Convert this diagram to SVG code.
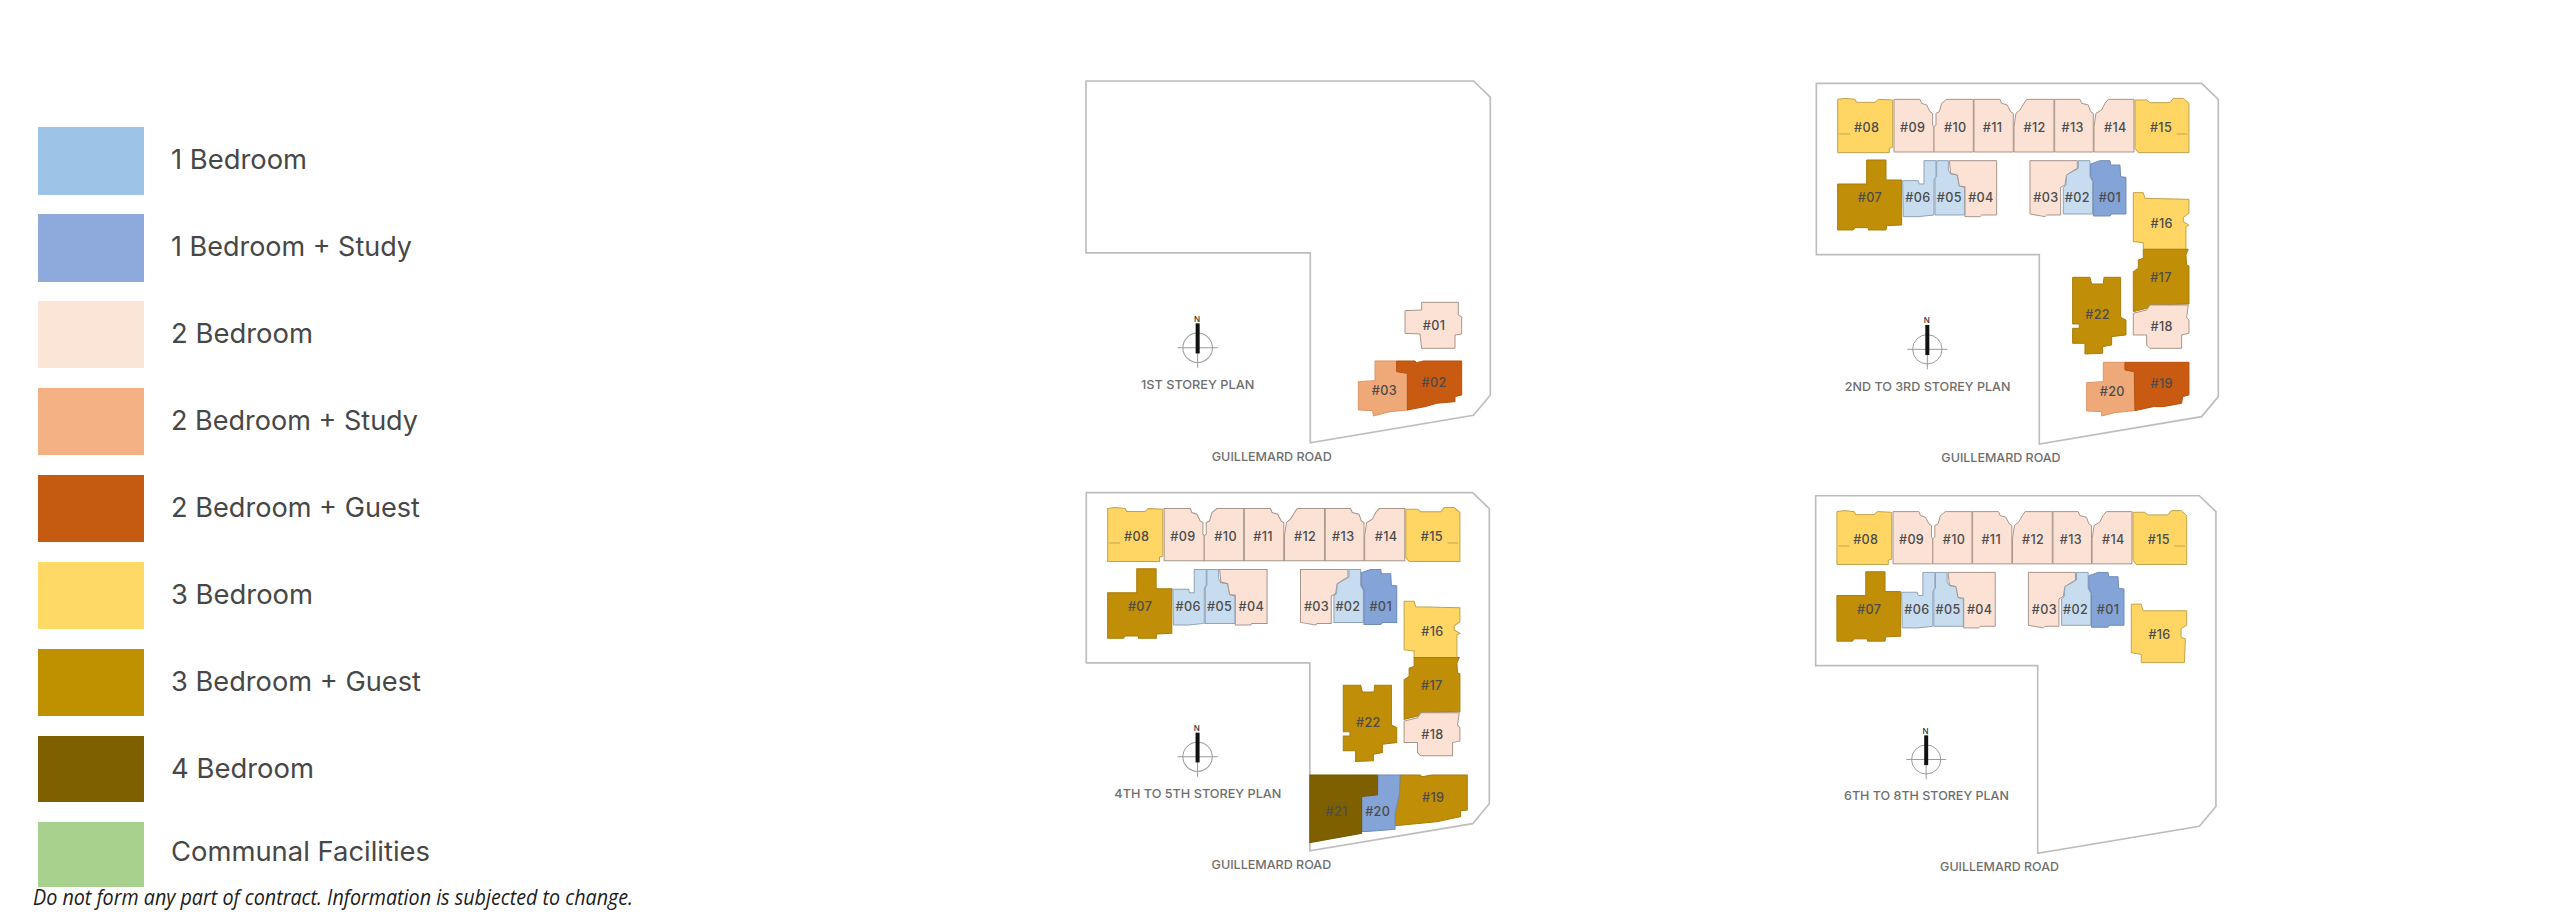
<svg xmlns="http://www.w3.org/2000/svg" xmlns:xlink="http://www.w3.org/1999/xlink" width="2560" height="923" viewBox="0 0 2560 923">
<style>
.lg{font-family:"Inter","Liberation Sans",sans-serif;font-size:27px;fill:#474747}
.note{font-family:"Open Sans","Liberation Sans",sans-serif;font-style:italic;font-size:21px;fill:#1c1c1c}
.frame{fill:#fff;stroke:#bdbdbd;stroke-width:5}
.t{font-family:"Inter","Liberation Sans",sans-serif;font-size:38px;font-weight:500;letter-spacing:1px;fill:#4c4c4c;text-anchor:middle}
.n{font-family:"Inter","Liberation Sans",sans-serif;font-size:24px;font-weight:500;fill:#333;text-anchor:middle}
.cap{font-family:"Inter","Liberation Sans",sans-serif;font-size:37px;font-weight:500;fill:#6e6e6e;text-anchor:middle}
.b1{fill:#C8DCF0;stroke:#8fa3b8;stroke-width:3}
.bs{fill:#84A3D6;stroke:#6f8cbc;stroke-width:3}
.b2{fill:#FBE2D5;stroke:#a8958a;stroke-width:3}
.ts{fill:#EFA878;stroke:#dc9667;stroke-width:3}
.tg{fill:#C85A12;stroke:#b75210;stroke-width:3}
.b3{fill:#FFD663;stroke:#bfa34f;stroke-width:3}
.bg{fill:#C18E08;stroke:#a97c08;stroke-width:3}
.b4{fill:#7F6000;stroke:#735700;stroke-width:3}
.cl{stroke:#9a9a9a;stroke-width:3;fill:none}
.mk{stroke:#bfa34f;stroke-width:3;fill:none}
</style>
<defs>
<polygon id="frame" points="49,70 1205,70 1255,118 1255,1010 1205,1070 718,1152 718,584 49,584"/>
<polygon id="p08" points="113,118 135,115 165,118 170,127 225,127 235,118 278,120 278,262 268,265 268,278 113,278"/>
<polygon id="p09" points="282,118 360,118 365,130 380,135 390,155 398,160 398,195 402,200 402,276 282,276"/>
<polygon id="p10" points="402,200 408,195 408,160 418,155 425,130 440,118 520,118 520,276 402,276"/>
<polygon id="p11" points="522,118 600,118 605,130 622,135 632,155 640,160 640,276 522,276"/>
<polygon id="p12" points="642,200 648,160 660,150 672,130 680,118 762,118 762,276 642,276"/>
<polygon id="p13" points="764,118 840,118 845,130 865,135 872,155 880,160 880,276 764,276"/>
<polygon id="p14" points="882,200 888,160 905,150 915,130 925,118 1002,118 1002,276 882,276"/>
<polygon id="p15" points="1005,120 1040,120 1050,128 1110,128 1120,115 1150,115 1167,130 1167,278 1015,278 1005,265"/>
<polygon id="p07" points="200,300 258,300 258,360 305,360 305,495 260,497 258,510 205,510 205,503 165,503 160,510 113,510 113,372 200,372"/>
<polygon id="p06" points="372,302 408,302 408,350 402,360 402,465 355,470 310,470 308,362 355,362 358,372 372,372"/>
<polygon id="p05" points="410,302 445,302 445,330 452,342 472,345 478,378 494,382 494,465 405,465 405,355 410,350"/>
<polygon id="p04" points="448,302 590,302 590,465 545,465 540,470 495,470 495,380 478,378 472,345 452,340"/>
<polygon id="p03" points="690,302 832,302 832,325 815,335 800,345 795,375 782,382 782,465 740,465 735,470 690,462"/>
<polygon id="p02" points="835,302 870,302 870,350 878,365 878,462 790,462 790,382 798,375 800,345 818,335 835,325"/>
<polygon id="p01" points="872,312 900,302 930,302 932,315 960,315 962,350 978,352 978,462 935,462 930,468 880,468 880,365 872,350"/>
<polygon id="p16" points="1000,398 1030,398 1035,415 1167,418 1167,460 1150,472 1150,485 1167,495 1158,500 1158,568 1030,568 1030,548 1000,545"/>
<polygon id="p17" points="1030,568 1165,568 1158,585 1160,615 1167,618 1167,732 1050,735 1040,745 1000,755 1000,635 1015,625 1015,600 1030,595"/>
<polygon id="p18" points="1050,735 1165,735 1160,772 1167,780 1167,820 1145,825 1145,865 1050,865 1040,855 1040,825 1000,825 1000,760 1040,750"/>
<polygon id="p22" points="818,652 870,652 875,672 910,672 912,652 962,652 962,772 978,780 978,825 935,830 935,855 908,860 908,880 855,882 855,850 818,850 818,805 838,805 838,792 818,792"/>
<polygon id="p20" points="910,907 975,907 975,930 1003,935 1003,1052 945,1058 905,1068 905,1055 860,1053 860,968 910,965"/>
<polygon id="p19" points="975,907 1167,907 1167,1005 1148,1010 1145,1030 1090,1040 1060,1040 1005,1052 1003,935 975,930"/>
<path id="m08" d="M118 222H150" class="mk"/>
<path id="m15" d="M1130 222H1162" class="mk"/>
<g id="north">
<circle cx="382" cy="868" r="44" class="cl"/>
<path d="M322 868H442M382 808V928" class="cl"/>
<rect x="376" y="795" width="12" height="90" fill="#111"/>
</g>
</defs>

<rect width="2560" height="923" fill="#fff"/>

<g id="legend">
<g id="legend-1b"><rect x="38" y="127" width="106" height="68" fill="#9DC3E6"/><text x="171" y="169" class="lg" textLength="136" lengthAdjust="spacingAndGlyphs">1 Bedroom</text></g>
<g id="legend-1bs"><rect x="38" y="214" width="106" height="68" fill="#8EA9DB"/><text x="171" y="256" class="lg" textLength="241" lengthAdjust="spacingAndGlyphs">1 Bedroom + Study</text></g>
<g id="legend-2b"><rect x="38" y="301" width="106" height="67" fill="#FBE5D6"/><text x="171" y="343" class="lg" textLength="142" lengthAdjust="spacingAndGlyphs">2 Bedroom</text></g>
<g id="legend-2bs"><rect x="38" y="388" width="106" height="67" fill="#F4B183"/><text x="171" y="430" class="lg" textLength="247" lengthAdjust="spacingAndGlyphs">2 Bedroom + Study</text></g>
<g id="legend-2bg"><rect x="38" y="475" width="106" height="67" fill="#C55A11"/><text x="171" y="517" class="lg" textLength="249" lengthAdjust="spacingAndGlyphs">2 Bedroom + Guest</text></g>
<g id="legend-3b"><rect x="38" y="562" width="106" height="67" fill="#FFD966"/><text x="171" y="604" class="lg" textLength="142" lengthAdjust="spacingAndGlyphs">3 Bedroom</text></g>
<g id="legend-3bg"><rect x="38" y="649" width="106" height="67" fill="#BF9000"/><text x="171" y="691" class="lg" textLength="250" lengthAdjust="spacingAndGlyphs">3 Bedroom + Guest</text></g>
<g id="legend-4b"><rect x="38" y="736" width="106" height="66" fill="#7F6000"/><text x="171" y="778" class="lg" textLength="143" lengthAdjust="spacingAndGlyphs">4 Bedroom</text></g>
<g id="legend-cf"><rect x="38" y="822" width="106" height="65" fill="#A9D18E"/><text x="171" y="861" class="lg" textLength="259" lengthAdjust="spacingAndGlyphs">Communal Facilities</text></g>
<text x="33" y="905" class="note" textLength="600" lengthAdjust="spacingAndGlyphs">Do not form any part of contract. Information is subjected to change.</text>
</g>

<g id="plan-1" transform="translate(1069.6,57.6) scale(.3352,.3343)">
<use xlink:href="#frame" href="#frame" class="frame"/>
<use xlink:href="#north" href="#north"/>
<text x="380" y="790" class="n">N</text>
<text x="382" y="992" class="cap" textLength="338" lengthAdjust="spacingAndGlyphs">1ST STOREY PLAN</text>
<text x="603" y="1206" class="cap" textLength="358" lengthAdjust="spacingAndGlyphs">GUILLEMARD ROAD</text>
<g transform="translate(-28.6,7.2) scale(.9944,.997)">
<g id="p1-u01"><polygon class="b2" points="1035,752 1085,750 1085,727 1195,727 1195,765 1205,770 1205,822 1185,825 1185,865 1085,865 1080,822 1035,820"/><text x="1122" y="810" class="t">#01</text></g>
<g id="p1-u03"><polygon class="ts" points="945,903 1010,903 1010,935 1042,940 1045,1050 990,1055 940,1068 938,1052 895,1050 895,965 945,962"/><text x="973" y="1005" class="t">#03</text></g>
<g id="p1-u02"><polygon class="tg" points="1010,903 1065,903 1070,908 1090,903 1205,903 1205,1005 1185,1010 1185,1025 1130,1030 1095,1040 1042,1050 1042,940 1010,935"/><text x="1122" y="981" class="t">#02</text></g>
</g>
</g>

<g id="plan-2" transform="translate(1800,60) scale(.3333)">
<use xlink:href="#frame" href="#frame" class="frame"/>
<use xlink:href="#north" href="#north"/>
<text x="380" y="790" class="n">N</text>
<text x="383" y="992" class="cap" textLength="497" lengthAdjust="spacingAndGlyphs">2ND TO 3RD STOREY PLAN</text>
<text x="603" y="1206" class="cap" textLength="358" lengthAdjust="spacingAndGlyphs">GUILLEMARD ROAD</text>
<g id="p2-u08"><use href="#p08" class="b3"/><use href="#m08"/><text x="200" y="215" class="t">#08</text></g>
<g id="p2-u09"><use href="#p09" class="b2"/><text x="338" y="217" class="t">#09</text></g>
<g id="p2-u10"><use href="#p10" class="b2"/><text x="466" y="217" class="t">#10</text></g>
<g id="p2-u11"><use href="#p11" class="b2"/><text x="578" y="217" class="t">#11</text></g>
<g id="p2-u12"><use href="#p12" class="b2"/><text x="704" y="217" class="t">#12</text></g>
<g id="p2-u13"><use href="#p13" class="b2"/><text x="818" y="217" class="t">#13</text></g>
<g id="p2-u14"><use href="#p14" class="b2"/><text x="946" y="217" class="t">#14</text></g>
<g id="p2-u15"><use href="#p15" class="b3"/><use href="#m15"/><text x="1083" y="217" class="t">#15</text></g>
<g id="p2-u07"><use href="#p07" class="bg"/><text x="210" y="427" class="t">#07</text></g>
<g id="p2-u06"><use href="#p06" class="b1"/><text x="354" y="427" class="t">#06</text></g>
<g id="p2-u05"><use href="#p05" class="b1"/><text x="448" y="427" class="t">#05</text></g>
<g id="p2-u04"><use href="#p04" class="b2"/><text x="543" y="427" class="t">#04</text></g>
<g id="p2-u03"><use href="#p03" class="b2"/><text x="738" y="427" class="t">#03</text></g>
<g id="p2-u02"><use href="#p02" class="b1"/><text x="832" y="427" class="t">#02</text></g>
<g id="p2-u01"><use href="#p01" class="bs"/><text x="930" y="427" class="t">#01</text></g>
<g id="p2-u16"><use href="#p16" class="b3"/><text x="1085" y="503" class="t">#16</text></g>
<g id="p2-u17"><use href="#p17" class="bg"/><text x="1083" y="665" class="t">#17</text></g>
<g id="p2-u18"><use href="#p18" class="b2"/><text x="1085" y="813" class="t">#18</text></g>
<g id="p2-u22"><use href="#p22" class="bg"/><text x="893" y="778" class="t">#22</text></g>
<g id="p2-u20"><use href="#p20" class="ts"/><text x="937" y="1008" class="t">#20</text></g>
<g id="p2-u19"><use href="#p19" class="tg"/><text x="1085" y="985" class="t">#19</text></g>
</g>

<g id="plan-3" transform="translate(1069.9,469.5) scale(.3342,.331)">
<use xlink:href="#frame" href="#frame" class="frame"/>
<use xlink:href="#north" href="#north"/>
<text x="380" y="790" class="n">N</text>
<text x="383" y="992" class="cap" textLength="500" lengthAdjust="spacingAndGlyphs">4TH TO 5TH STOREY PLAN</text>
<text x="603" y="1206" class="cap" textLength="358" lengthAdjust="spacingAndGlyphs">GUILLEMARD ROAD</text>
<g id="p3-u08"><use href="#p08" class="b3"/><use href="#m08"/><text x="200" y="215" class="t">#08</text></g>
<g id="p3-u09"><use href="#p09" class="b2"/><text x="338" y="217" class="t">#09</text></g>
<g id="p3-u10"><use href="#p10" class="b2"/><text x="466" y="217" class="t">#10</text></g>
<g id="p3-u11"><use href="#p11" class="b2"/><text x="578" y="217" class="t">#11</text></g>
<g id="p3-u12"><use href="#p12" class="b2"/><text x="704" y="217" class="t">#12</text></g>
<g id="p3-u13"><use href="#p13" class="b2"/><text x="818" y="217" class="t">#13</text></g>
<g id="p3-u14"><use href="#p14" class="b2"/><text x="946" y="217" class="t">#14</text></g>
<g id="p3-u15"><use href="#p15" class="b3"/><use href="#m15"/><text x="1083" y="217" class="t">#15</text></g>
<g id="p3-u07"><use href="#p07" class="bg"/><text x="210" y="427" class="t">#07</text></g>
<g id="p3-u06"><use href="#p06" class="b1"/><text x="354" y="427" class="t">#06</text></g>
<g id="p3-u05"><use href="#p05" class="b1"/><text x="448" y="427" class="t">#05</text></g>
<g id="p3-u04"><use href="#p04" class="b2"/><text x="543" y="427" class="t">#04</text></g>
<g id="p3-u03"><use href="#p03" class="b2"/><text x="738" y="427" class="t">#03</text></g>
<g id="p3-u02"><use href="#p02" class="b1"/><text x="832" y="427" class="t">#02</text></g>
<g id="p3-u01"><use href="#p01" class="bs"/><text x="930" y="427" class="t">#01</text></g>
<g id="p3-u16"><use href="#p16" class="b3"/><text x="1085" y="503" class="t">#16</text></g>
<g id="p3-u17"><use href="#p17" class="bg"/><text x="1083" y="665" class="t">#17</text></g>
<g id="p3-u18"><use href="#p18" class="b2"/><text x="1085" y="813" class="t">#18</text></g>
<g id="p3-u22"><use href="#p22" class="bg"/><text x="893" y="778" class="t">#22</text></g>
<g id="p3-u19"><polygon class="bg" points="988,923 1048,923 1053,928 1083,923 1189,923 1189,1029 1169,1031 1169,1049 1097,1064 973,1076 973,1039 986,978"/><text x="1087" y="1006" class="t">#19</text></g>
<g id="p3-u20"><polygon class="bs" points="923,923 988,923 986,978 973,1039 973,1087 888,1094 873,1094 873,988 920,983"/><text x="921" y="1047" class="t">#20</text></g>
<g id="p3-u21"><polygon class="b4" points="718,923 920,923 920,983 873,988 873,1099 718,1127"/><text x="798" y="1047" class="t">#21</text></g>
</g>

<g id="plan-4" transform="translate(1799.4,472.6) scale(.3319,.3305)">
<use xlink:href="#frame" href="#frame" class="frame"/>
<use xlink:href="#north" href="#north"/>
<text x="380" y="790" class="n">N</text>
<text x="383" y="992" class="cap" textLength="497" lengthAdjust="spacingAndGlyphs">6TH TO 8TH STOREY PLAN</text>
<text x="603" y="1206" class="cap" textLength="358" lengthAdjust="spacingAndGlyphs">GUILLEMARD ROAD</text>
<g id="p4-u08"><use href="#p08" class="b3"/><use href="#m08"/><text x="200" y="215" class="t">#08</text></g>
<g id="p4-u09"><use href="#p09" class="b2"/><text x="338" y="217" class="t">#09</text></g>
<g id="p4-u10"><use href="#p10" class="b2"/><text x="466" y="217" class="t">#10</text></g>
<g id="p4-u11"><use href="#p11" class="b2"/><text x="578" y="217" class="t">#11</text></g>
<g id="p4-u12"><use href="#p12" class="b2"/><text x="704" y="217" class="t">#12</text></g>
<g id="p4-u13"><use href="#p13" class="b2"/><text x="818" y="217" class="t">#13</text></g>
<g id="p4-u14"><use href="#p14" class="b2"/><text x="946" y="217" class="t">#14</text></g>
<g id="p4-u15"><use href="#p15" class="b3"/><use href="#m15"/><text x="1083" y="217" class="t">#15</text></g>
<g id="p4-u07"><use href="#p07" class="bg"/><text x="210" y="427" class="t">#07</text></g>
<g id="p4-u06"><use href="#p06" class="b1"/><text x="354" y="427" class="t">#06</text></g>
<g id="p4-u05"><use href="#p05" class="b1"/><text x="448" y="427" class="t">#05</text></g>
<g id="p4-u04"><use href="#p04" class="b2"/><text x="543" y="427" class="t">#04</text></g>
<g id="p4-u03"><use href="#p03" class="b2"/><text x="738" y="427" class="t">#03</text></g>
<g id="p4-u02"><use href="#p02" class="b1"/><text x="832" y="427" class="t">#02</text></g>
<g id="p4-u01"><use href="#p01" class="bs"/><text x="930" y="427" class="t">#01</text></g>
<g id="p4-u16"><polygon class="b3" points="1000,398 1030,398 1035,418 1167,418 1167,462 1150,472 1150,498 1163,503 1160,575 1030,575 1030,550 1000,545"/><text x="1085" y="503" class="t">#16</text></g>
</g>
</svg>
